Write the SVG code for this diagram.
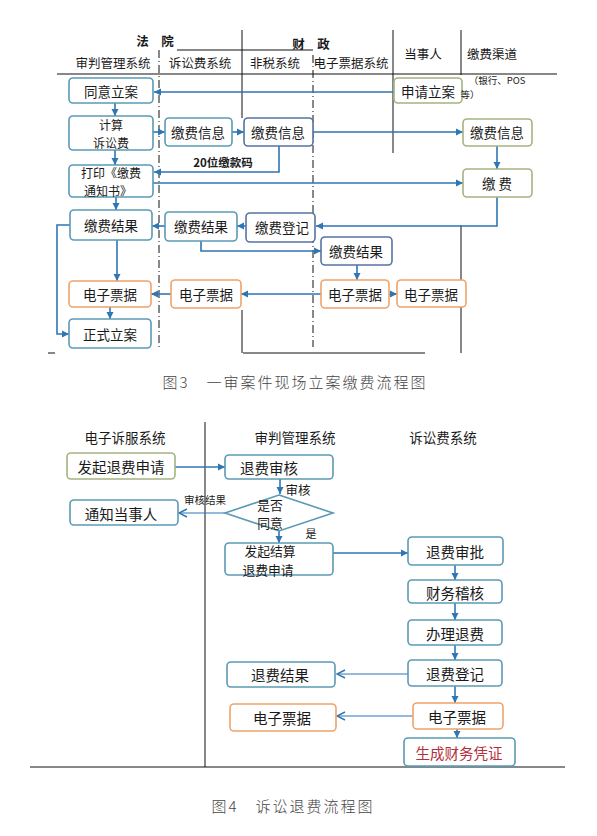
<svg xmlns="http://www.w3.org/2000/svg" width="597" height="836" viewBox="0 0 597 836">
<style>
text{font-family:"Noto Sans CJK SC","Noto Sans",sans-serif;fill:#1a1a1a;text-anchor:middle;dominant-baseline:central}
.h{font-size:12.5px}
.h2{font-size:13.5px}
.t{font-size:13.5px}
.t2{font-size:12px}
.b{font-size:14.5px}
.b2{font-size:12.8px}
.cap{font-size:15px;fill:#444;font-weight:300;letter-spacing:2px}
.bx{fill:#fff;stroke:#5a9ab5;stroke-width:1.6}
.dk{fill:#fff;stroke:#5673a3;stroke-width:1.6}
.gr{fill:#fff;stroke:#a3b480;stroke-width:1.6}
.or{fill:#fff;stroke:#eea36b;stroke-width:1.6}
.ln{stroke:#111;stroke-width:1;fill:none}
.ds{stroke:#111;stroke-width:1;fill:none;stroke-dasharray:8 3 1 3}
.c{stroke:#2f76b3;stroke-width:1.6;fill:none;marker-end:url(#a)}
.o{stroke:#2f76b3;stroke-width:1.2;fill:none;marker-end:url(#op)}
</style>
<defs>
<marker id="a" markerWidth="8" markerHeight="8" refX="7" refY="4" orient="auto" markerUnits="userSpaceOnUse"><path d="M0,0.5 L7,4 L0,7.5 Z" fill="#2f76b3"/></marker>
<marker id="op" markerWidth="10" markerHeight="10" refX="9" refY="5" orient="auto" markerUnits="userSpaceOnUse"><path d="M1,1 L9,5 L1,9" fill="none" stroke="#2f76b3" stroke-width="1.4"/></marker>
</defs>
<rect width="597" height="836" fill="#fff"/>

<!-- ===== Figure 3 lanes ===== -->
<g id="lanes3">
<line class="ln" x1="57" y1="74" x2="557" y2="74"/>
<line class="ln" x1="177" y1="50" x2="313" y2="50"/>
<line class="ln" x1="242" y1="30" x2="242" y2="118"/>
<line class="ln" x1="242" y1="310" x2="242" y2="353"/>
<line class="ln" x1="393" y1="30" x2="393" y2="153"/>
<line class="ln" x1="461" y1="30" x2="461" y2="75"/>
<line class="ln" x1="461" y1="225" x2="461" y2="353"/>
<line class="ln" x1="243" y1="353" x2="425" y2="353"/>
<line class="ln" x1="48" y1="353" x2="55" y2="353"/>
<line class="ds" x1="159" y1="50" x2="159" y2="347"/>
<line class="ds" x1="313" y1="55" x2="313" y2="347"/>
<text class="h" x="155" y="40" font-weight="bold">法　院</text>
<text class="h" x="311" y="43" font-weight="bold">财　政</text>
<text class="h" x="113" y="62">审判管理系统</text>
<text class="h" x="200" y="62">诉讼费系统</text>
<text class="h" x="275" y="62">非税系统</text>
<text class="h" x="351" y="62">电子票据系统</text>
<text class="h" x="423" y="53">当事人</text>
<text class="h" x="492" y="53">缴费渠道</text>
</g>

<!-- ===== Figure 3 connectors ===== -->
<g id="connectors3">
<path class="c" d="M394,92 H154"/>
<path class="c" d="M115,103 V116"/>
<path class="c" d="M115,150 V165"/>
<path class="c" d="M153,132 H165"/>
<path class="c" d="M232,132 H244"/>
<path class="c" d="M313,132 H463"/>
<path class="c" d="M279,146 V172 H154"/>
<path class="c" d="M153,183 H463"/>
<path class="c" d="M497,146 V169"/>
<path class="c" d="M116,197 V210"/>
<path class="c" d="M497,197 V226 H316"/>
<path class="c" d="M246,226 H237"/>
<path class="c" d="M165,226 H152"/>
<path class="c" d="M201,241 V251 H321"/>
<path class="c" d="M357,265 V280"/>
<path class="c" d="M389,294 H397"/>
<path class="c" d="M321,294 H241"/>
<path class="c" d="M171,294 H151"/>
<path class="c" d="M117,240 V281"/>
<path class="c" d="M110,307 V319"/>
<path class="c" d="M70,225 H57 V334 H69"/>
<text x="223" y="162" font-size="11.5" font-weight="bold">20位缴款码</text>
</g>

<!-- ===== Figure 3 nodes ===== -->
<g id="n-tyla"><rect class="bx" x="69" y="78" width="84" height="25" rx="4"/><text class="t" x="111" y="91">同意立案</text></g>
<g id="n-jisuan"><rect class="bx" x="69" y="116" width="84" height="34" rx="4"/><text class="t2" x="111" y="124">计算</text><text class="t2" x="111" y="142">诉讼费</text></g>
<g id="n-dayin"><rect class="bx" x="69" y="165" width="84" height="32" rx="4"/><text class="t2" x="111" y="172.5">打印《缴费</text><text class="t2" x="108" y="190.5">通知书》</text></g>
<g id="n-jfxx1"><rect class="bx" x="165" y="118" width="67" height="28" rx="4"/><text class="t" x="198" y="132">缴费信息</text></g>
<g id="n-jfxx2"><rect class="dk" x="244" y="118" width="69" height="28" rx="4"/><text class="t" x="278" y="132">缴费信息</text></g>
<g id="n-sqla"><rect class="gr" x="394" y="78" width="68" height="25" rx="4"/><text class="t" x="428" y="91">申请立案</text></g>
<g id="n-note"><text x="497" y="80" font-size="9.5">（银行、POS</text><text x="470" y="94" font-size="9.5">等）</text></g>
<g id="n-jfxx3"><rect class="gr" x="463" y="119" width="69" height="27" rx="4"/><text class="t" x="497" y="132">缴费信息</text></g>
<g id="n-jiaofei"><rect class="gr" x="463" y="169" width="69" height="28" rx="4"/><text class="t" x="497" y="183">缴 费</text></g>
<g id="n-jfjg1"><rect class="bx" x="70" y="210" width="82" height="30" rx="4"/><text class="t" x="111" y="225">缴费结果</text></g>
<g id="n-jfjg2"><rect class="bx" x="165" y="212" width="72" height="29" rx="4"/><text class="t" x="201" y="226">缴费结果</text></g>
<g id="n-jfdj"><rect class="dk" x="246" y="213" width="69" height="29" rx="4"/><text class="t" x="282" y="227">缴费登记</text></g>
<g id="n-jfjg3"><rect class="dk" x="321" y="237" width="71" height="28" rx="4"/><text class="t" x="356" y="251">缴费结果</text></g>
<g id="n-dzpj1"><rect class="or" x="69" y="281" width="82" height="26" rx="4"/><text class="t" x="110" y="294">电子票据</text></g>
<g id="n-dzpj2"><rect class="or" x="171" y="280" width="70" height="28" rx="4"/><text class="t" x="206" y="294">电子票据</text></g>
<g id="n-dzpj3"><rect class="or" x="321" y="280" width="68" height="28" rx="4"/><text class="t" x="355" y="294">电子票据</text></g>
<g id="n-dzpj4"><rect class="or" x="397" y="280" width="69" height="27" rx="4"/><text class="t" x="431" y="294">电子票据</text></g>
<g id="n-zsla"><rect class="bx" x="69" y="319" width="82" height="29" rx="4"/><text class="t" x="110" y="334">正式立案</text></g>

<text class="cap" x="295" y="381">图3　一审案件现场立案缴费流程图</text>

<!-- ===== Figure 4 lanes ===== -->
<g id="lanes4">
<line class="ln" x1="205" y1="422" x2="205" y2="767"/>
<line class="ln" x1="30" y1="767" x2="565" y2="767"/>
<text class="h2" x="125" y="437">电子诉服系统</text>
<text class="h2" x="295" y="437">审判管理系统</text>
<text class="h2" x="443" y="437">诉讼费系统</text>
</g>

<!-- ===== Figure 4 connectors ===== -->
<g id="connectors4">
<path class="c" d="M175,467 H225"/>
<path class="c" d="M280,479 V494"/>
<path class="o" d="M225,513 H179"/>
<path class="c" d="M279,531 V543"/>
<path class="c" d="M333,553 H408"/>
<path class="c" d="M455,565 V580"/>
<path class="c" d="M455,603 V620"/>
<path class="c" d="M455,645 V660"/>
<path class="o" d="M408,674 H337"/>
<path class="c" d="M455,686 V703"/>
<path class="o" d="M413,716 H337"/>
<path class="c" d="M457,729 V738"/>
<text x="298" y="489" font-size="12.5">审核</text>
<text x="205" y="499" font-size="10.5">审核结果</text>
<text x="311" y="533" font-size="11">是</text>
</g>

<!-- ===== Figure 4 nodes ===== -->
<g id="m-fqtf"><rect class="gr" x="67" y="453" width="108" height="26" rx="4"/><text class="b" x="121" y="466">发起退费申请</text></g>
<g id="m-tfsh"><rect class="bx" x="225" y="455" width="108" height="24" rx="4"/><text class="b" x="269" y="467">退费审核</text></g>
<g id="m-diamond"><polygon points="279,495 333,513 279,531 225,513" fill="#fff" stroke="#5a9ab5" stroke-width="1.6"/><text class="b2" x="270" y="504">是否</text><text class="b2" x="270" y="522.5">同意</text></g>
<g id="m-tzdsr"><rect class="bx" x="70" y="500" width="108" height="25" rx="4"/><text class="b" x="121" y="513">通知当事人</text></g>
<g id="m-fqjs"><rect class="bx" x="225" y="543" width="108" height="32" rx="4"/><text class="b2" x="270" y="550">发起结算</text><text class="b2" x="268" y="569">退费申请</text></g>
<g id="m-tfsp"><rect class="bx" x="408" y="537" width="95" height="28" rx="4"/><text class="b" x="455" y="551">退费审批</text></g>
<g id="m-cwjh"><rect class="bx" x="408" y="580" width="94" height="23" rx="4"/><text class="b" x="455" y="592">财务稽核</text></g>
<g id="m-bltf"><rect class="bx" x="408" y="620" width="94" height="25" rx="4"/><text class="b" x="455" y="633">办理退费</text></g>
<g id="m-tfdj"><rect class="bx" x="408" y="660" width="94" height="26" rx="4"/><text class="b" x="455" y="673">退费登记</text></g>
<g id="m-tfjg"><rect class="bx" x="227" y="662" width="108" height="25" rx="4"/><text class="b" x="280" y="674">退费结果</text></g>
<g id="m-dzpj1"><rect class="or" x="230" y="704" width="106" height="27" rx="4"/><text class="b" x="282" y="717">电子票据</text></g>
<g id="m-dzpj2"><rect class="or" x="413" y="703" width="90" height="26" rx="4"/><text class="b" x="457" y="716">电子票据</text></g>
<g id="m-scpz"><rect class="bx" x="404" y="738" width="111" height="28" rx="4"/><text class="b" x="459" y="752" style="fill:#b3303b">生成财务凭证</text></g>

<text class="cap" x="293" y="805">图4　诉讼退费流程图</text>
</svg>
